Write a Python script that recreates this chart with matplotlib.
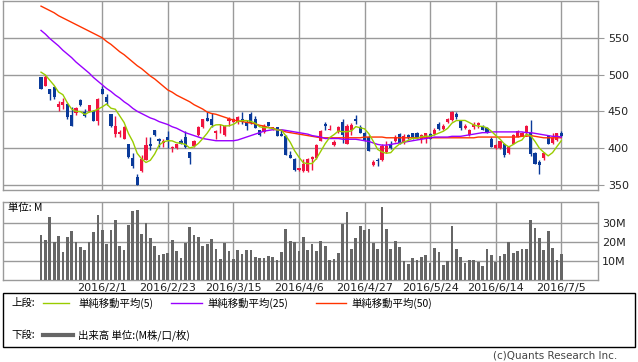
import matplotlib
matplotlib.use('Agg')
import matplotlib.pyplot as plt
import numpy as np
import pandas as pd
from matplotlib.lines import Line2D
from matplotlib.patches import Rectangle

plt.rcParams['font.family'] = ['DejaVu Sans', 'Noto Sans CJK JP']

# ---------------- data ----------------
date_label_idx = [14, 29, 44, 59, 74, 89, 104, 119]
date_labels = ['2016/2/1', '2016/2/23', '2016/3/15', '2016/4/6',
               '2016/4/27', '2016/5/24', '2016/6/14', '2016/7/5']

open_ = [496, 484, 480, 483, 456, 459, 460, 445, 448, 465,
         449, 450, 450, 437, 480, 469, 446, 419, 419, 413,
         406, 387, 360, 369, 384, 406, 424, 413, 407, 415,
         400, 400, 409, 415, 395, 403, 418, 428, 441, 440,
         420, 428, 418, 437, 436, 435, 440, 436, 447, 440,
         425, 422, 435, 426, 428, 419, 416, 391, 385, 370,
         369, 369, 385, 386, 410, 433, 425, 404, 422, 435,
         406, 424, 439, 428, 421, 415, 377, 384, 384, 394,
         406, 409, 419, 407, 418, 420, 421, 413, 416, 419,
         419, 433, 426, 435, 438, 447, 437, 427, 418, 428,
         431, 430, 427, 413, 400, 400, 406, 393, 406, 415,
         417, 420, 422, 393, 381, 386, 416, 407, 411, 421]
high = [497, 500, 481, 485, 464, 468, 461, 456, 456, 467,
        453, 459, 452, 468, 485, 473, 446, 443, 424, 430,
        406, 393, 365, 390, 415, 415, 425, 414, 412, 423,
        403, 406, 412, 423, 395, 411, 430, 440, 449, 448,
        425, 433, 432, 442, 441, 443, 449, 438, 449, 443,
        425, 433, 436, 429, 429, 424, 418, 396, 386, 373,
        385, 386, 389, 406, 425, 435, 432, 411, 430, 440,
        433, 434, 445, 431, 422, 418, 384, 386, 406, 409,
        409, 418, 420, 419, 419, 421, 422, 419, 421, 420,
        427, 435, 433, 441, 450, 449, 438, 433, 426, 435,
        435, 431, 429, 415, 406, 410, 407, 403, 419, 425,
        422, 431, 438, 394, 384, 395, 418, 421, 421, 423]
low = [480, 484, 465, 467, 451, 453, 439, 430, 445, 457,
       442, 449, 437, 431, 474, 458, 428, 415, 415, 413,
       387, 373, 350, 368, 384, 397, 416, 402, 402, 400,
       394, 399, 406, 400, 379, 402, 417, 427, 437, 429,
       412, 421, 417, 430, 435, 433, 433, 425, 433, 427,
       416, 421, 430, 425, 416, 416, 390, 386, 369, 369,
       368, 368, 370, 385, 409, 425, 424, 403, 421, 407,
       406, 418, 433, 420, 409, 396, 376, 376, 383, 393,
       399, 408, 406, 406, 413, 412, 413, 407, 407, 413,
       418, 425, 425, 434, 437, 440, 425, 426, 417, 426,
       427, 425, 420, 401, 399, 399, 388, 392, 406, 415,
       416, 418, 389, 378, 365, 384, 406, 406, 409, 415]
close = [481, 496, 474, 470, 460, 463, 442, 430, 455, 458,
         443, 459, 437, 467, 474, 463, 430, 430, 422, 429,
         388, 375, 350, 385, 404, 403, 418, 409, 409, 411,
         402, 405, 406, 401, 387, 410, 428, 439, 437, 431,
         423, 429, 430, 439, 440, 442, 436, 430, 434, 427,
         418, 430, 430, 428, 417, 417, 391, 387, 370, 373,
         379, 385, 388, 404, 423, 430, 426, 408, 429, 418,
         430, 432, 437, 421, 411, 396, 381, 382, 403, 403,
         400, 415, 407, 416, 414, 415, 414, 418, 420, 413,
         425, 426, 430, 440, 449, 442, 427, 430, 425, 433,
         434, 425, 421, 402, 404, 409, 391, 402, 418, 423,
         421, 430, 392, 379, 377, 393, 406, 414, 420, 417]
prior_close = [515, 510, 505, 505]

volume_m = [23.9, 21.2, 33.5, 20.2, 23.3, 15.1, 22.8, 26.0, 20.2, 17.5,
            16.0, 20.0, 25.4, 34.4, 26.5, 19.1, 26.5, 31.8, 18.1, 16.0,
            29.3, 36.5, 37.0, 24.6, 30.0, 22.3, 18.1, 13.3, 13.9, 14.6,
            21.2, 15.4, 11.8, 19.8, 28.1, 23.9, 22.8, 18.1, 19.1, 21.8,
            16.5, 11.2, 19.6, 15.4, 11.2, 16.0, 13.9, 16.0, 16.0, 12.3,
            11.8, 11.8, 12.8, 12.3, 10.7, 14.9, 27.0, 20.7, 20.2, 15.4,
            22.8, 16.0, 19.1, 15.4, 20.7, 18.1, 10.7, 11.2, 14.4, 29.8,
            36.0, 16.5, 22.3, 28.6, 26.5, 27.0, 19.6, 16.5, 38.6, 27.0,
            16.5, 20.7, 17.5, 10.2, 8.6, 11.8, 10.7, 12.3, 13.3, 9.1,
            17.0, 14.9, 8.1, 10.2, 28.6, 16.5, 12.3, 9.1, 10.7, 10.7,
            9.6, 7.5, 16.5, 13.3, 9.6, 12.8, 13.9, 20.2, 14.6, 15.4,
            16.5, 16.5, 31.8, 27.5, 22.3, 16.0, 26.0, 17.0, 10.7, 13.9]

ma25 = [560, 555, 549, 544, 539, 533, 528, 523, 517, 512, 507, 502, 496, 491, 486,
        481, 477, 472, 468, 463, 459, 454, 450,
        447, 444, 441, 439, 436, 434, 432, 429, 427, 424, 421, 419,
        417, 415, 413, 412, 411,
        410, 410, 410, 410, 410,
        411, 413, 415, 417, 419, 421, 423, 424,
        425, 425, 425, 424, 423, 422, 421,
        420, 419, 417, 416, 415,
        413, 413, 413, 413, 412, 412, 412,
        412, 411, 410, 409, 407,
        405, 404, 404, 405,
        406, 407, 408, 409, 410,
        411, 412, 413, 414, 415,
        415, 415, 415, 416, 416, 416, 417,
        418, 419, 420, 421, 421, 422,
        422, 422, 422, 422, 422, 422, 422, 421, 421,
        420, 419, 418, 417, 416, 416, 415]

ma50 = [593, 590, 587, 584, 580, 577, 574, 571, 568, 565, 562, 559, 556, 553, 550,
        545, 541, 536, 531, 527, 522, 517, 512, 508, 503, 498, 494, 489, 484, 479,
        476, 472, 469, 466, 463, 459, 456, 453, 449,
        447, 446, 444, 442, 440, 438,
        437, 436, 435, 434, 433, 431, 430,
        428, 427, 425, 424, 422, 421, 420, 419, 418, 417, 416, 415, 414,
        414, 414, 414, 414, 414, 414, 414, 414, 414, 415, 415, 415, 415, 415, 414,
        414, 414, 414, 414, 414,
        414, 414, 414, 414, 414, 414, 414, 414, 414, 414, 414, 414, 414, 414, 414,
        415, 415, 415, 415, 415,
        415, 415, 415, 415, 415, 416, 416, 417, 416, 415, 414, 414, 414, 414, 414]

# ---------------- styling ----------------
W, H = 638, 362
UP = '#f01440'
DOWN = '#0a3a9a'
GRID = '#9a9a9a'
C_MA5 = '#99cc00'
C_MA25 = '#9900ff'
C_MA50 = '#ff3300'
VOLC = '#666666'

def fx(px):
    return px / W

def fy(py):
    return 1 - py / H

fig = plt.figure(figsize=(W / 100, H / 100), dpi=100)
fig.patch.set_facecolor('white')

ax = fig.add_axes([fx(3), fy(190), fx(595), 189 / H])
axv = fig.add_axes([fx(3), fy(280.3), fx(595), 78.6 / H])

n = len(close)
idx = np.arange(n)
o = np.array(open_, float)
c = np.array(close, float)
h = np.array(high, float)
l = np.array(low, float)
up = c >= o
colors = np.where(up, UP, DOWN)

# grid
for a in (ax, axv):
    a.set_xlim(-8.7, 127.4)
    a.set_xticks(date_label_idx)
    a.grid(True, color=GRID, lw=1.0)
    a.set_axisbelow(True)
    for s in a.spines.values():
        s.set_color(GRID)
        s.set_linewidth(1.0)
    a.yaxis.tick_right()
    a.tick_params(axis='y', length=4, color=GRID, labelsize=8, pad=3,
                  labelcolor='#222222')
    a.tick_params(axis='x', length=0)

# candles
ax.vlines(idx, l, h, colors=colors, lw=1.0, zorder=3)
body_lo = np.minimum(o, c)
body_h = np.maximum(np.abs(c - o), 0.6)
ax.bar(idx, body_h, bottom=body_lo, width=0.72, color=colors, lw=0, zorder=4)

# moving averages
ma5 = pd.Series(prior_close + close).rolling(5).mean().to_numpy()[len(prior_close):]
ax.plot(idx, ma50, color=C_MA50, lw=1.0, zorder=5)
ax.plot(idx, ma25, color=C_MA25, lw=1.0, zorder=5)
ax.plot(idx, ma5, color=C_MA5, lw=1.0, zorder=5)

ax.set_ylim(343, 600)
ax.set_yticks([350, 400, 450, 500, 550])
ax.set_xticklabels([])

# volume
axv.bar(idx, volume_m, width=0.62, color=VOLC, lw=0, zorder=3)
axv.set_ylim(0, 41.4)
axv.set_yticks([10, 20, 30])
axv.set_yticklabels(['10M', '20M', '30M'])
axv.set_xticklabels(date_labels, fontsize=8, color='#222222')
axv.tick_params(axis='x', pad=2)
axv.tick_params(axis='y', length=0)
fig.text(fx(8), fy(208), '単位: M', fontsize=7.5, va='center', ha='left',
         family=['Noto Sans CJK JP', 'DejaVu Sans'])

# legend box
fig.add_artist(Rectangle((fx(3), fy(347)), fx(632), (347 - 293) / H,
                         transform=fig.transFigure, fill=False,
                         edgecolor='black', lw=1.0))
jp = ['Noto Sans CJK JP', 'DejaVu Sans']
fig.text(fx(11), fy(303), '上段:', fontsize=7.5, va='center', family=jp)
fig.text(fx(11), fy(335), '下段:', fontsize=7.5, va='center', family=jp)
legend_items = [(43, 69, 78, C_MA5, '単純移動平均(5)'),
                (171, 202, 207, C_MA25, '単純移動平均(25)'),
                (316, 346, 351, C_MA50, '単純移動平均(50)')]
for x0, x1, xt, col, lab in legend_items:
    fig.add_artist(Line2D([fx(x0), fx(x1)], [fy(303), fy(303)],
                          transform=fig.transFigure, color=col, lw=1.0))
    fig.text(fx(xt), fy(303), lab, fontsize=7.5, va='center', family=jp)
fig.add_artist(Line2D([fx(43), fx(73)], [fy(335), fy(335)],
                      transform=fig.transFigure, color=VOLC, lw=3.0))
fig.text(fx(78), fy(335), '出来高 単位:(M株/口/枚)', fontsize=7.5,
         va='center', family=jp)

fig.text(fx(617), fy(356), '(c)Quants Research Inc.', fontsize=7.5,
         ha='right', va='center', color='#444444')

fig.savefig('out.png', dpi=100)
